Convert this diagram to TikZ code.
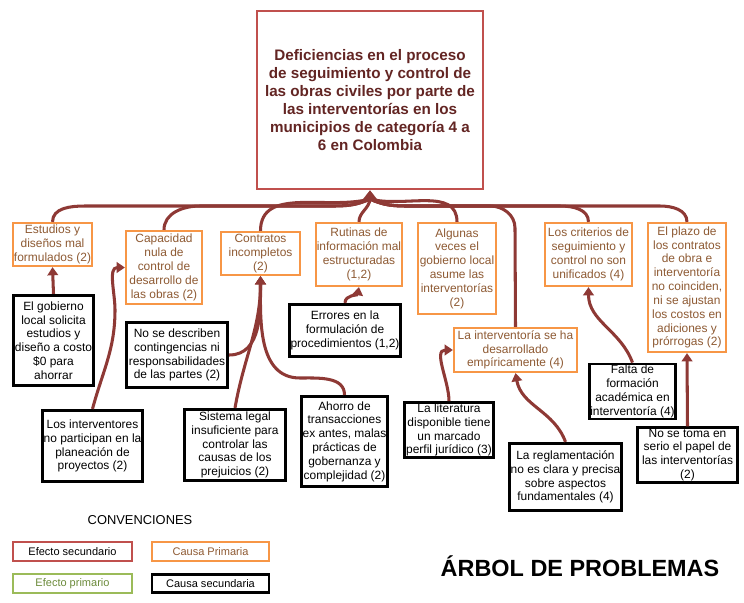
\documentclass[tikz,border=0pt]{standalone}
\usepackage{fontspec}
\setmainfont{Liberation Sans}
\usetikzlibrary{arrows.meta}
\definecolor{efecto}{HTML}{C0504D}
\definecolor{causa}{HTML}{F79646}
\definecolor{causatxt}{HTML}{8E5A33}
\definecolor{verde}{HTML}{9BBB59}
\definecolor{verdetxt}{HTML}{6B8A3A}
\definecolor{titulo}{HTML}{632523}
\definecolor{flecha}{HTML}{8E3935}

\begin{document}
\begin{tikzpicture}[x=0.03cm, y=0.03cm,
  box/.style={draw, fill=white, align=center, inner sep=1pt, font=\fontsize{10.2}{11.8}\selectfont},
  primaria/.style={box, draw=causa, line width=1.6pt, text=causatxt},
  secundaria/.style={box, draw=black, line width=2.4pt},
  leyenda/.style={draw, line width=1.6pt, minimum width=#1, minimum height=0.55cm, inner sep=1pt, font=\fontsize{9.4}{11}\selectfont},
  link/.style={draw=flecha, line width=2.6pt},
  arrow/.style={link, -{Triangle[width=9pt,length=7pt]}},
]
\useasboundingbox (0,0) rectangle (744,-602);

\node[box, draw=efecto, line width=2pt, text=titulo, minimum width=6.78cm, minimum height=5.34cm,
  font=\fontsize{13}{15.5}\selectfont\bfseries] (top) at (370,-100)
  {Deficiencias en el proceso\\de seguimiento y control de\\las obras civiles por parte de\\las interventorías en los\\municipios de categoría 4 a\\6 en Colombia};

% causas primarias
\node[primaria, minimum width=2.38cm, minimum height=1.3cm] (est) at (52.5,-244.5) {Estudios y\\diseños mal\\formulados (2)};
\node[primaria, minimum width=2.29cm, minimum height=2.2cm] (cap) at (164,-267.5) {Capacidad\\nula de\\control de\\desarrollo de\\las obras (2)};
\node[primaria, minimum width=2.38cm, minimum height=1.3cm] (con) at (260.5,-253.5) {Contratos\\incompletos\\(2)};
\node[primaria, minimum width=2.59cm, minimum height=1.9cm] (rut) at (359,-254.5) {Rutinas de\\información mal\\estructuradas\\(1,2)};
\node[primaria, minimum width=2.35cm, minimum height=2.74cm] (alg) at (457,-268.5) {Algunas\\veces el\\gobierno local\\asume las\\interventorías\\(2)};
\node[primaria, minimum width=3.7cm, minimum height=1.33cm] (emp) at (515.5,-350) {La interventoría se ha\\desarrollado\\empíricamente (4)};
\node[primaria, minimum width=2.62cm, minimum height=1.9cm] (cri) at (588.5,-254.5) {Los criterios de\\seguimiento y\\control no son\\unificados (4)};
\node[primaria, minimum width=2.35cm, minimum height=3.88cm] (pla) at (687,-287.5) {El plazo de\\los contratos\\de obra e\\interventoría\\no coinciden,\\ni se ajustan\\los costos en\\adiciones y\\prórrogas (2)};

% causas secundarias
\node[secundaria, minimum width=2.29cm, minimum height=2.71cm] (gob) at (53.5,-340.5) {El gobierno\\local solicita\\estudios y\\diseño a costo\\\$0 para\\ahorrar};
\node[secundaria, minimum width=3.04cm, minimum height=1.96cm] (des) at (177,-355) {No se describen\\contingencias ni\\responsabilidades\\de las partes (2)};
\node[secundaria, minimum width=3.01cm, minimum height=2.14cm] (par) at (92.5,-446) {Los interventores\\no participan en la\\planeación de\\proyectos (2)};
\node[secundaria, minimum width=3.04cm, minimum height=2.14cm] (leg) at (235,-445) {Sistema legal\\insuficiente para\\controlar las\\causas de los\\prejuicios (2)};
\node[secundaria, minimum width=2.59cm, minimum height=2.71cm] (aho) at (344.5,-441.5) {Ahorro de\\transacciones\\ex antes, malas\\prácticas de\\gobernanza y\\complejidad (2)};
\node[secundaria, minimum width=3.34cm, minimum height=1.57cm] (err) at (345,-330.5) {Errores en la\\formulación de\\procedimientos (1,2)};
\node[secundaria, minimum width=2.68cm, minimum height=1.6cm] (lit) at (449,-430) {La literatura\\disponible tiene\\un marcado\\perfil jurídico (3)};
\node[secundaria, minimum width=3.37cm, minimum height=2.02cm] (reg) at (565.5,-477) {La reglamentación\\no es clara y precisa\\sobre aspectos\\fundamentales (4)};
\node[secundaria, minimum width=2.59cm, minimum height=1.63cm] (fal) at (632.5,-391.5) {Falta de\\formación\\académica en\\interventoría (4)};
\node[secundaria, minimum width=3.01cm, minimum height=1.6cm] (tom) at (687.5,-455) {No se toma en\\serio el papel de\\las interventorías\\(2)};

% ramas hacia el problema central
\coordinate (jn) at (370,-199);
\draw[link] (est.north) to[out=90,in=180] (85,-206) -- (330,-206) to[out=0,in=205] (jn);
\draw[link] (cap.north) to[out=90,in=180] (200,-206) -- (330,-206) to[out=0,in=205] (jn);
\draw[link] (con.north) to[out=90,in=195] (jn);
\draw[link] (rut.north) to[out=90,in=-95] (jn);
\draw[link] (alg.north) to[out=90,in=-15] (jn);
\draw[link] (emp.north) -- (515,-228) to[out=90,in=0] (490,-206) -- (410,-206) to[out=180,in=-25] (jn);
\draw[link] (cri.north) to[out=90,in=0] (560,-206) -- (410,-206) to[out=180,in=-25] (jn);
\draw[link] (pla.north) to[out=90,in=0] (660,-206) -- (410,-206) to[out=180,in=-25] (jn);
\draw[arrow, -{Triangle[width=12pt,length=8pt]}] (jn) -- (top.south);

% causas secundarias hacia primarias
\draw[arrow] (gob.north) -- (est.south);
\draw[arrow] (des.east) to[out=0,in=-90] (con.south);
\draw[arrow] (leg.north) to[out=80,in=-90] (con.south);
\draw[arrow] (aho.north) to[out=90,in=0] (300,-378) to[out=180,in=-90] (con.south);
\draw[arrow] (par.north) to[out=75,in=-90] (115,-310) to[out=90,in=180] (cap.west);
\draw[arrow] (err.north) to[out=90,in=-100] (rut.south);
\draw[arrow] (lit.north) to[out=90,in=180] (emp.west);
\draw[arrow] (reg.north) to[out=110,in=-80] (emp.south);
\draw[arrow] (fal.north) to[out=110,in=-90] (cri.south);
\draw[arrow] (tom.north) -- (pla.south);

% convenciones
\node[font=\fontsize{11}{13}\selectfont] (conv) at (140,-520) {CONVENCIONES};
\node[leyenda=3.57cm, draw=efecto] (lsec) at (72.5,-551.5) {Efecto secundario};
\node[leyenda=3.51cm, draw=causa, text=causatxt] (lpri) at (210.5,-551.5) {Causa Primaria};
\node[leyenda=3.57cm, draw=verde, text=verdetxt] (lefp) at (72.5,-583.5) {Efecto primario};
\node[leyenda=3.51cm, draw=black, line width=2.2pt] (lcas) at (210.5,-583.5) {Causa secundaria};

\node[font=\fontsize{20}{24}\selectfont\bfseries] (arbol) at (580,-566) {ÁRBOL DE PROBLEMAS};
\end{tikzpicture}
\end{document}
